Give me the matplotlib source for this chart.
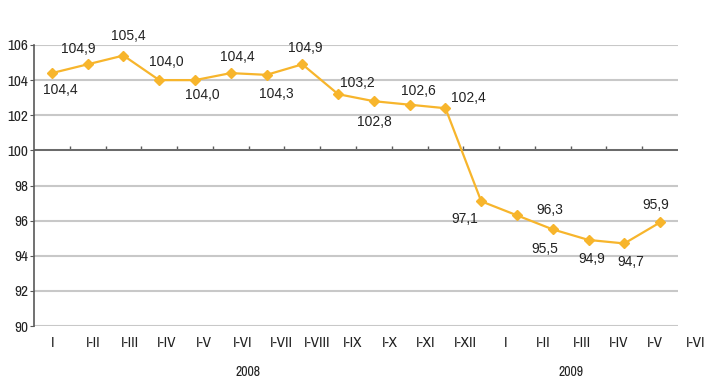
import numpy as np
import matplotlib.pyplot as plt
from matplotlib import font_manager
import matplotlib.transforms as mtransforms

names = sorted({f.name for f in font_manager.fontManager.ttflist})
narrow = [n for n in names if "Narrow" in n or "Condensed" in n]
axis_font = [narrow[0]] if narrow else ["Liberation Sans"]
plt.rcParams['font.family'] = ['Liberation Sans', 'DejaVu Sans']

months = ["I", "I-II", "I-III", "I-IV", "I-V", "I-VI", "I-VII", "I-VIII", "I-IX",
          "I-X", "I-XI", "I-XII", "I", "I-II", "I-III", "I-IV", "I-V", "I-VI"]
month_labels = months + ["I-VI"]
values = [104.4, 104.9, 105.4, 104.0, 104.0, 104.4, 104.3, 104.9, 103.2,
          102.8, 102.6, 102.4, 97.1, 96.3, 95.5, 94.9, 94.7, 95.9]
years = ["2008", "2009"]

# label offsets in pixels (dx, dy) copied from the original layout
offs = [(8, -17), (-9, 15), (5, 20), (7, 18), (7, -15), (7, 16), (10, -19), (3, 16),
        (19, 11), (0, -21), (9, 14), (23, 10), (-16, -18), (33, 5), (-8, -20),
        (3, -19), (6, -19), (-4, 17)]
# pixel centres of the month labels under the axis (unevenly spread in the source)
label_px = [53, 93, 130, 167, 204, 243, 281, 317, 353, 390, 426, 465,
            506, 543, 582, 619, 655, 696]
year_px = [248, 571]

orange = "#F7B52C"
dark = "#595959"
txt = "#222222"

x0, x1 = 34, 678
fig = plt.figure(figsize=(7.09, 3.78), dpi=100)
ax = fig.add_axes([x0 / 709, 1 - 326 / 378, (x1 - x0) / 709, (326 - 45) / 378])

x = np.arange(len(values))
ax.plot(x, values, color=orange, lw=1.6, marker="D", ms=5.5, mec=orange, mfc=orange, zorder=4)

for i, (dx, dy) in enumerate(offs):
    ax.annotate(f"{values[i]:.1f}".replace(".", ","), (x[i], values[i]),
                xytext=(dx * 0.72, dy * 0.72), textcoords="offset points",
                ha="center", va="center", fontsize=10, color=txt)

ax.set_xlim(-0.5, len(values) - 0.5)
ax.set_ylim(90, 106)
ax.set_yticks(np.arange(90, 107, 2))
ax.yaxis.grid(True, color="#C8C8C8", lw=1.5)
ax.set_axisbelow(True)
for s in ["top", "right", "bottom"]:
    ax.spines[s].set_visible(False)
ax.spines["left"].set_color(dark)
ax.spines["left"].set_linewidth(1.2)
ax.tick_params(axis="y", length=3, color=dark, labelsize=11, labelcolor=txt, pad=1)
for t in ax.get_yticklabels():
    t.set_family(axis_font)
ax.set_xticks([])

# category axis crosses at 100
ax.axhline(100, color=dark, lw=1.2, zorder=2)
sec = ax.secondary_xaxis((100 - 90) / (106 - 90))
sec.set_xticks(x[:-1] + 0.5)
sec.set_xticklabels([])
sec.tick_params(axis="x", direction="out", length=3, color=dark, width=1)
for s in sec.spines.values():
    s.set_visible(False)

step = (x1 - x0) / len(values)
trans = mtransforms.blended_transform_factory(ax.transData, ax.transAxes)
for lab, px in zip(month_labels, label_px):
    ax.text((px - x0) / step - 0.5, -0.06, lab, transform=trans, ha="center", va="center",
            fontsize=11, color=txt, family=axis_font)
for yr, px in zip(years, year_px):
    ax.text((px - x0) / step - 0.5, -0.165, yr, transform=trans, ha="center", va="center",
            fontsize=10, color=txt, family=axis_font)

fig.savefig("out.png", dpi=100)
